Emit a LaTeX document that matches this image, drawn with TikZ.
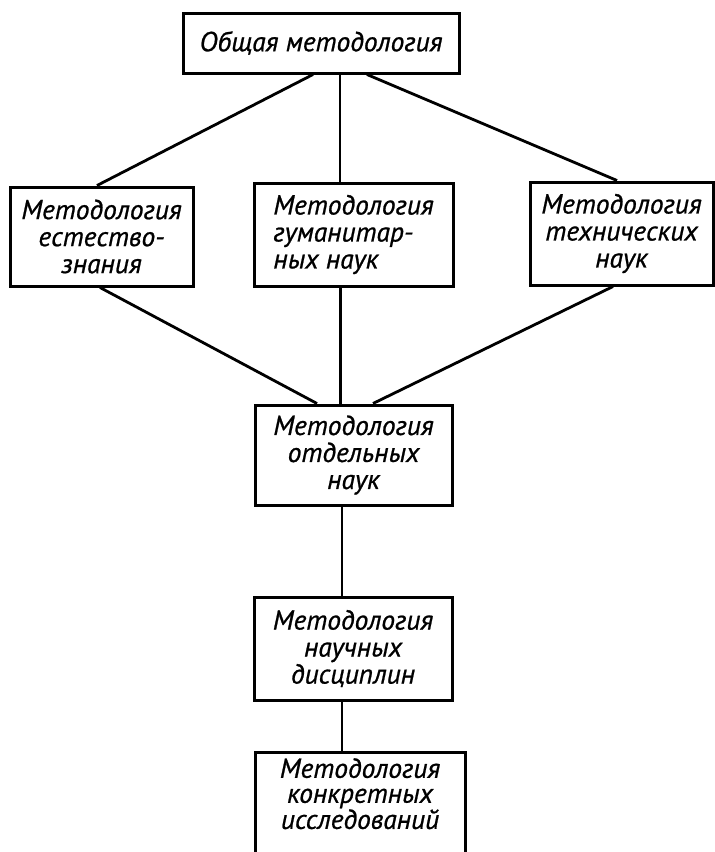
\documentclass[tikz,border=0pt]{standalone}
\usepackage{fontspec}
\setmainfont{PT Sans}[ItalicFeatures={FakeBold=0.8}]
\begin{document}
\begin{tikzpicture}[x=1pt,y=-1pt,
  box/.style={draw, line width=3pt, inner sep=0pt, anchor=center,
    font=\itshape\fontsize{27.5}{27}\selectfont, align=center},
  link/.style={line width=2.8pt}]
\clip (0,0) rectangle (715,852);
\fill[white] (0,0) rectangle (715,852);

% methodology levels
\node[box, minimum width=276pt, minimum height=60pt] (gen) at (321,43) {Общая методология};
\node[box, minimum width=183pt, minimum height=99pt] (nat) at (101.5,236.5) {Методология\\естество-\\знания};
\node[box, minimum width=199pt, minimum height=103pt, align=left] (hum) at (353.5,234.5) {Методология\\гуманитар-\\ных наук};
\node[box, minimum width=183pt, minimum height=103pt] (tech) at (621.5,233.5) {Методология\\технических\\наук};
\node[box, minimum width=197pt, minimum height=100pt] (sep) at (353.5,455) {Методология\\отдельных\\наук};
\node[box, minimum width=198pt, minimum height=103pt] (disc) at (353,648.5) {Методология\\научных\\дисциплин};
\node[box, minimum width=210pt, minimum height=140pt] (conc) at (360,822) {};
\node[font=\itshape\fontsize{27.5}{25}\selectfont, align=center, anchor=north, inner sep=0pt] (conctext) at (360,758) {Методология\\конкретных\\исследований};

% links between levels
\draw[link] ([xshift=-8pt]gen.south) -- ([xshift=-4.5pt]nat.north);
\draw[link] ([xshift=19pt]gen.south) -- ([xshift=-13.5pt]hum.north);
\draw[link] ([xshift=46pt]gen.south) -- ([xshift=-4.5pt]tech.north);
\draw[link] ([xshift=-1.5pt]nat.south) -- ([xshift=-36.5pt]sep.north);
\draw[link] ([xshift=-13pt]hum.south) -- ([xshift=-13pt]sep.north);
\draw[link] ([xshift=-8.5pt]tech.south) -- ([xshift=19.5pt]sep.north);
\draw[link] ([xshift=-11.5pt]sep.south) -- ([xshift=-11pt]disc.north);
\draw[link] ([xshift=-11pt]disc.south) -- ([xshift=-18pt]conc.north);
\end{tikzpicture}
\end{document}
